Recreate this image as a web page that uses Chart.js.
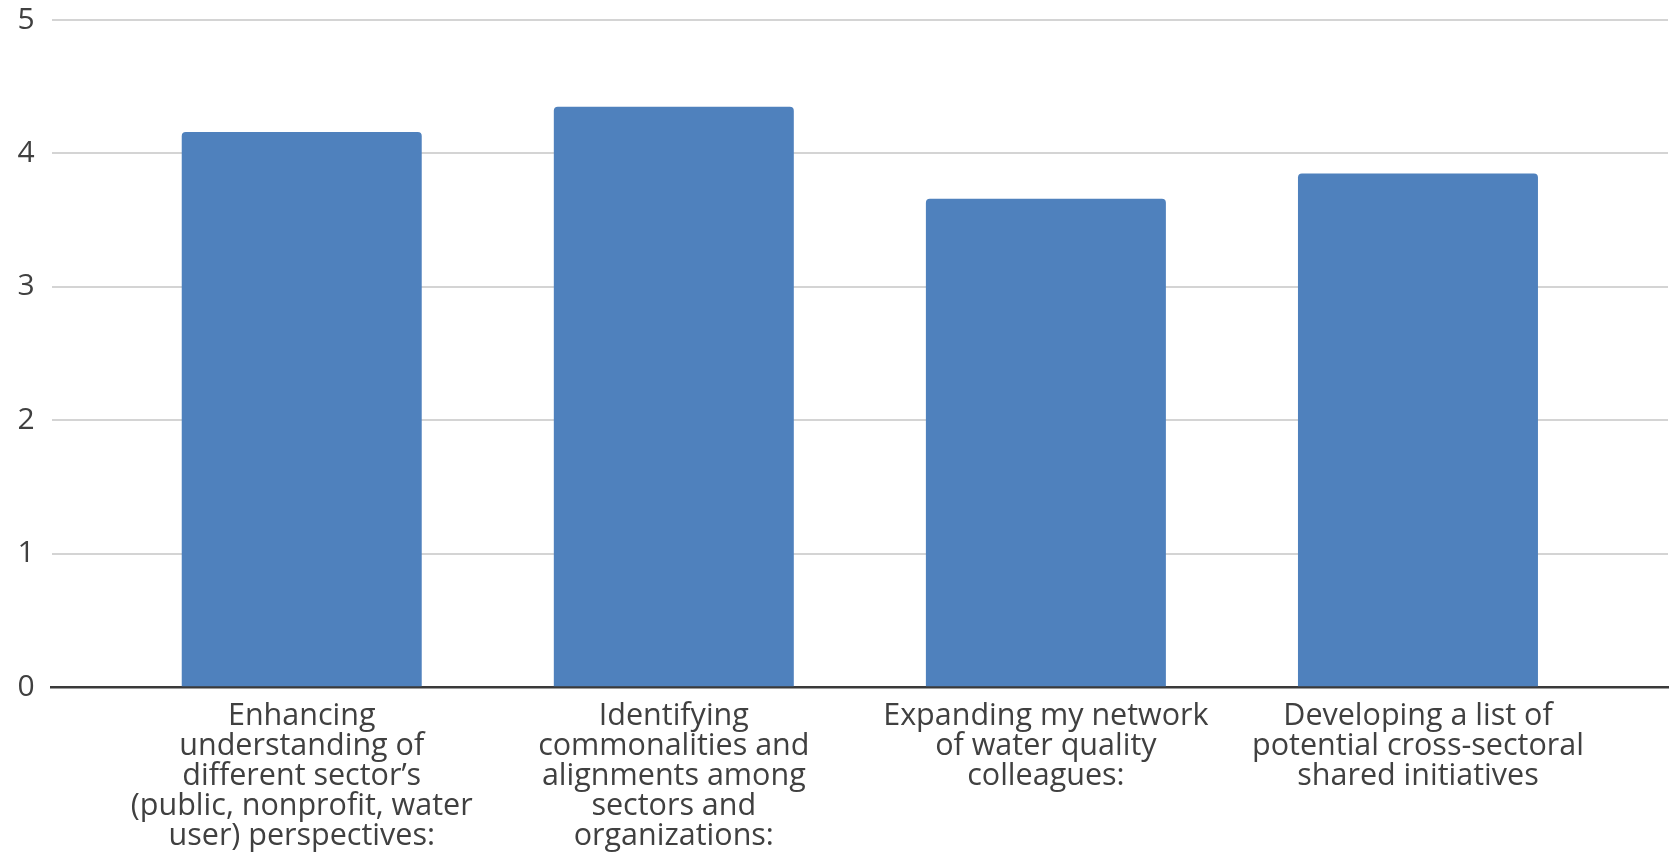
<!DOCTYPE html>
<html>
<head>
<meta charset="utf-8">
<script src="https://cdn.jsdelivr.net/npm/chart.js@4"></script>
<style>
  html, body { margin: 0; padding: 0; background: #ffffff; }
  #wrap { width: 1672px; height: 855px; position: relative; }
</style>
</head>
<body>
<div id="wrap"><canvas id="c"></canvas></div>
<script>
const categories = [
  ["Enhancing", "understanding of", "different sector’s", "(public, nonprofit, water", "user) perspectives:"],
  ["Identifying", "commonalities and", "alignments among", "sectors and", "organizations:"],
  ["Expanding my network", "of water quality", "colleagues:"],
  ["Developing a list of", "potential cross-sectoral", "shared initiatives"]
];
const values = [4.16, 4.35, 3.66, 3.85];
const yTicks = [0, 1, 2, 3, 4, 5];

const textColor = "#404040";
const fontFamily = "'Open Sans', 'DejaVu Sans', sans-serif";

const points = values.map((v, i) => ({ x: i, y: v }));

new Chart(document.getElementById("c"), {
  type: "bar",
  data: {
    datasets: [{
      data: points,
      backgroundColor: "#4F81BD",
      borderWidth: 0,
      borderRadius: { topLeft: 4, topRight: 4, bottomLeft: 0, bottomRight: 0 },
      borderSkipped: false,
      categoryPercentage: 1,
      barPercentage: 0.645
    }]
  },
  options: {
    responsive: true,
    maintainAspectRatio: false,
    animation: false,
    devicePixelRatio: 1,
    layout: { padding: { top: 0, right: 4, left: 0, bottom: 0 } },
    plugins: { legend: { display: false }, tooltip: { enabled: false }, title: { display: false } },
    scales: {
      x: {
        type: "linear",
        offset: false,
        bounds: "ticks",
        min: -0.672,
        max: 3.672,
        afterBuildTicks: (scale) => { scale.ticks = categories.map((_, i) => ({ value: i })); },
        afterFit: (scale) => { scale.height = 855 - 687.3; },
        grid: { display: false, drawTicks: false, offset: false },
        border: { display: true, color: "#3a3a3a", width: 2.5 },
        ticks: {
          autoSkip: false,
          maxRotation: 0,
          minRotation: 0,
          padding: 14,
          color: textColor,
          font: { family: fontFamily, size: 30.5, lineHeight: 0.985 },
          callback: (v) => categories[v] || ""
        }
      },
      y: {
        min: 0,
        max: 5,
        afterBuildTicks: (scale) => { scale.ticks = yTicks.map(v => ({ value: v })); },
        afterFit: (scale) => { scale.width = 51.7; scale.paddingTop = 20; },
        border: { display: false },
        grid: {
          drawTicks: false,
          lineWidth: 2,
          color: (ctx) => ctx.tick && ctx.tick.value === 0 ? "rgba(0,0,0,0)" : "#d4d4d4"
        },
        ticks: {
          padding: 17,
          color: textColor,
          font: { family: fontFamily, size: 30 }
        }
      }
    }
  }
});
</script>
</body>
</html>
